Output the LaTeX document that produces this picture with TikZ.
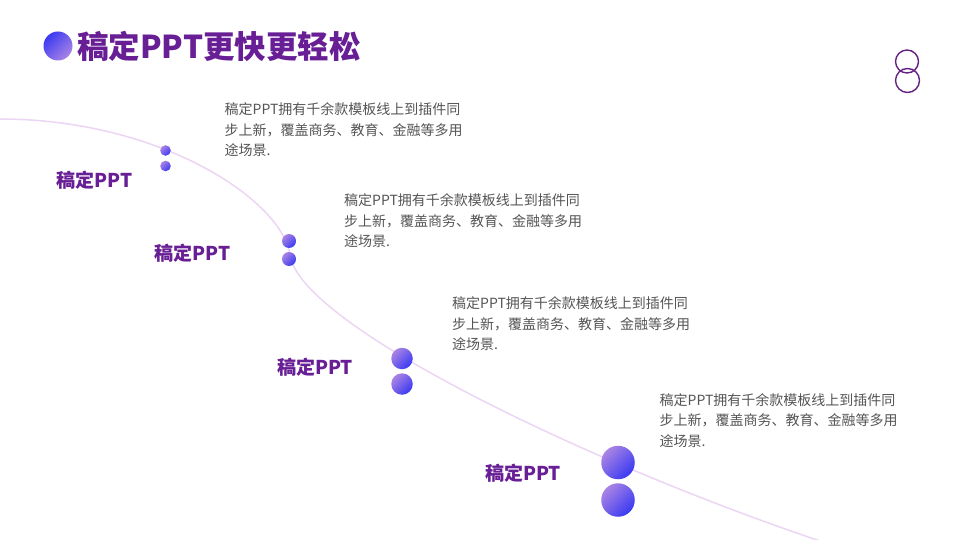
\documentclass[tikz,border=0pt]{standalone}
\usepackage{fontspec}
\setmainfont{Noto Sans CJK SC}
\definecolor{titlepurple}{RGB}{104,30,148}
\definecolor{bodygray}{RGB}{85,85,85}
\definecolor{pathpink}{RGB}{236,214,244}
\definecolor{balllav}{RGB}{170,132,228}
\definecolor{ballblue}{RGB}{58,58,242}
\definecolor{iconpurple}{RGB}{102,34,130}
\tikzset{
	ball/.style={circle,inner sep=0pt,top color=balllav,bottom color=ballblue,shading angle=45},
	label/.style={font=\fontsize{19}{23}\selectfont\bfseries,text=titlepurple,inner sep=0pt},
	body/.style={font=\fontsize{14}{20.5}\selectfont,text=bodygray,align=left,inner sep=0pt,anchor=north west}
}
\begin{document}
\begin{tikzpicture}[>=latex,x=1pt,y=-1pt]
			%(px from top left)
			\fill[white] (0,0) rectangle (960,540);
			\useasboundingbox (0,0) rectangle (960,540);
			\node (dot) at (58,46)[circle,inner sep=0pt,minimum size=29pt,top color=ballblue,bottom color=balllav,shading angle=45]{};
			\node (title) at (77,46.5)[anchor=west,inner sep=0pt,font=\fontsize{31.5}{35}\selectfont\bfseries,text=titlepurple]{稿定PPT更快更轻松};
			\draw[iconpurple,line width=1.4pt] (907,61.5) circle[radius=11.5pt];
			\draw[iconpurple,line width=1.4pt] (907.5,80.5) circle[radius=12pt];
			\draw[pathpink,line width=1.5pt] (0,119) .. controls (160,119) and (282,200) .. (290,255) .. controls (300,324) and (580,460) .. (820,541);
			\node (b1a) at (165.5,150.5)[ball,minimum size=10.6pt]{};
			\node (b1b) at (165.5,166)[ball,minimum size=10.6pt]{};
			\node (b2a) at (289,241)[ball,minimum size=14pt]{};
			\node (b2b) at (289,259)[ball,minimum size=14pt]{};
			\node (b3a) at (402,358.5)[ball,minimum size=21.5pt]{};
			\node (b3b) at (402,384)[ball,minimum size=21.5pt]{};
			\node (b4a) at (618,462.5)[ball,minimum size=33.5pt]{};
			\node (b4b) at (618,500)[ball,minimum size=33.5pt]{};
			\node (l1) at (94.5,180.5)[label]{稿定PPT};
			\node (l2) at (192.5,253)[label]{稿定PPT};
			\node (l3) at (315,367)[label]{稿定PPT};
			\node (l4) at (523,473)[label]{稿定PPT};
			\node (t1) at (224.5,102.5)[body]{稿定PPT拥有千余款模板线上到插件同\\步上新，覆盖商务、教育、金融等多用\\途场景.};
			\node (t2) at (344,193.5)[body]{稿定PPT拥有千余款模板线上到插件同\\步上新，覆盖商务、教育、金融等多用\\途场景.};
			\node (t3) at (452,296.5)[body]{稿定PPT拥有千余款模板线上到插件同\\步上新，覆盖商务、教育、金融等多用\\途场景.};
			\node (t4) at (659.5,393)[body]{稿定PPT拥有千余款模板线上到插件同\\步上新，覆盖商务、教育、金融等多用\\途场景.};
		\end{tikzpicture}
\end{document}
